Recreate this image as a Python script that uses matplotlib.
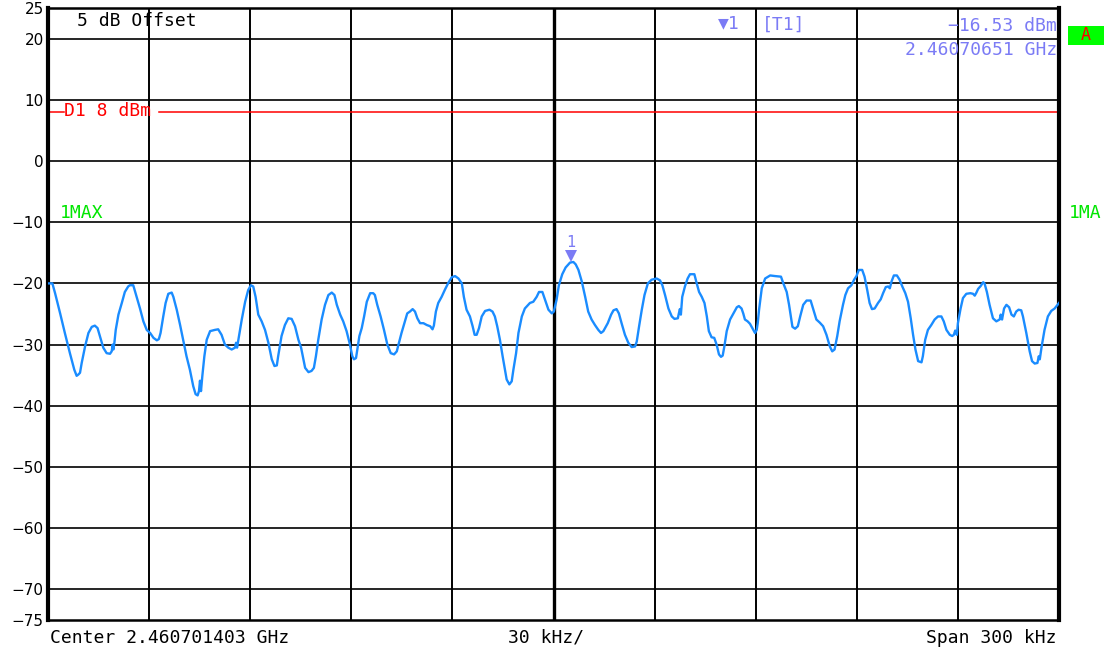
import matplotlib.pyplot as plt
from matplotlib.patches import Rectangle

W, H = 1113, 654

# trace 1 (max hold), offset from centre frequency in kHz, level in dBm
freq_khz = [
    -150.0, -148.7, -147.9, -146.4, -145.0, -143.5, -142.2, -141.5, -141.0, -140.5,
    -140.0, -139.0, -138.0, -137.0, -136.1, -135.3, -134.6, -133.6, -132.6, -131.6,
    -131.1, -130.8, -130.6, -130.3, -129.9, -129.1, -128.1, -127.2, -126.2, -125.7,
    -124.7, -123.7, -122.7, -121.7, -120.7, -119.7, -118.7, -117.7, -117.1, -116.6,
    -115.8, -115.1, -114.3, -113.3, -112.8, -111.8, -110.8, -109.8, -108.9, -107.9,
    -106.9, -106.2, -105.6, -105.2, -104.9, -104.6, -104.2, -103.6, -102.9, -101.9,
    -100.5, -99.5, -98.5, -97.5, -96.5, -95.5, -94.5, -94.2, -93.9, -93.5,
    -92.5, -91.5, -90.6, -89.8, -89.1, -88.4, -87.6, -86.6, -85.6, -84.6,
    -83.6, -82.8, -82.1, -81.7, -80.7, -79.7, -78.7, -77.7, -76.7, -75.7,
    -74.9, -74.4, -73.7, -72.7, -71.8, -71.1, -70.5, -69.8, -68.8, -67.8,
    -66.8, -65.8, -65.0, -64.3, -63.3, -62.4, -61.4, -60.4, -59.7, -59.2,
    -58.6, -58.2, -57.6, -56.9, -56.2, -55.4, -54.4, -53.5, -53.0, -52.3,
    -51.3, -50.3, -49.3, -48.3, -47.3, -46.5, -46.0, -45.1, -44.1, -43.4,
    -42.6, -41.8, -41.1, -40.4, -39.6, -38.6, -37.6, -36.6, -35.9, -35.5,
    -34.9, -34.2, -33.2, -32.2, -31.2, -30.2, -29.2, -28.2, -27.2, -26.6,
    -25.8, -24.8, -24.0, -23.4, -22.8, -22.1, -21.3, -20.3, -19.0, -18.1,
    -17.4, -16.7, -15.9, -15.1, -14.4, -13.9, -13.1, -12.4, -11.9, -11.1,
    -10.4, -9.4, -8.5, -7.0, -6.0, -5.0, -4.3, -3.3, -2.5, -1.5,
    -0.5, 0.1, 0.9, 1.6, 2.6, 3.6, 4.9, 5.9, 6.6, 7.4,
    8.4, 9.4, 10.3, 11.3, 12.3, 13.3, 14.1, 14.8, 15.3, 16.1,
    17.1, 17.8, 18.7, 19.4, 20.2, 21.2, 22.2, 23.2, 24.2, 24.7,
    25.4, 26.2, 27.0, 28.0, 29.1, 30.6, 31.6, 32.3, 33.1, 34.1,
    35.1, 35.9, 36.9, 37.2, 37.5, 37.8, 38.2, 39.0, 39.8, 40.5,
    41.8, 42.5, 43.2, 44.0, 44.8, 45.5, 46.1, 46.9, 47.7, 48.4,
    49.1, 49.7, 50.2, 50.7, 51.4, 52.4, 53.4, 54.4, 55.0, 55.8,
    56.3, 56.8, 57.6, 58.3, 59.3, 59.8, 60.3, 60.6, 61.0, 61.8,
    62.8, 64.3, 65.7, 67.5, 68.2, 69.2, 69.9, 70.5, 70.9, 71.7,
    72.5, 73.2, 74.1, 75.1, 76.3, 77.0, 78.0, 79.0, 80.0, 81.0,
    82.0, 82.7, 83.4, 84.2, 84.9, 85.9, 86.6, 87.4, 88.4, 89.2,
    89.9, 90.6, 91.6, 92.3, 93.1, 93.8, 94.5, 95.3, 96.3, 97.1,
    97.8, 98.6, 99.3, 99.8, 100.3, 101.0, 101.9, 102.7, 103.5, 104.4,
    105.2, 106.0, 106.7, 107.4, 108.2, 109.2, 109.6, 110.3, 111.1, 112.1,
    113.1, 114.1, 115.1, 115.8, 116.6, 117.6, 118.3, 118.8, 119.2, 119.7,
    120.0, 120.8, 121.5, 122.5, 123.7, 124.5, 125.0, 125.5, 126.0, 126.8,
    127.5, 127.9, 128.6, 129.4, 130.4, 131.4, 132.4, 132.7, 133.1, 133.7,
    134.4, 135.2, 135.9, 136.6, 137.3, 138.0, 138.8, 139.3, 140.3, 141.3,
    142.0, 142.8, 143.6, 144.0, 144.3, 144.8, 145.7, 146.7, 147.7, 148.7,
    150.0,
]
level_dbm = [
    -20.0, -20.0, -21.6, -24.9, -28.1, -31.4, -34.1, -35.1, -34.9, -34.6,
    -33.0, -30.3, -28.1, -27.1, -26.9, -27.3, -28.6, -30.5, -31.4, -31.5,
    -31.1, -30.0, -30.8, -29.7, -27.6, -25.1, -23.2, -21.4, -20.5, -20.3,
    -20.3, -22.2, -24.1, -26.2, -27.6, -28.1, -28.9, -29.3, -29.1, -28.1,
    -25.4, -23.2, -21.7, -21.5, -22.2, -24.3, -26.8, -29.5, -31.9, -34.1,
    -36.8, -38.1, -38.3, -37.6, -35.9, -37.6, -35.1, -31.9, -29.2, -27.8,
    -27.6, -27.5, -28.4, -30.0, -30.5, -30.8, -30.5, -29.7, -30.5, -29.2,
    -25.9, -23.0, -21.1, -20.3, -20.5, -22.2, -25.1, -26.2, -27.6, -29.7,
    -32.4, -33.5, -33.4, -31.9, -28.6, -26.8, -25.7, -25.8, -27.0, -29.2,
    -30.5, -31.9, -33.8, -34.5, -34.3, -33.8, -31.9, -29.2, -25.9, -23.5,
    -21.9, -21.5, -21.9, -23.5, -25.1, -26.2, -27.8, -30.0, -31.9, -32.4,
    -32.2, -30.8, -28.6, -27.3, -25.4, -23.0, -21.6, -21.6, -21.9, -23.5,
    -25.4, -27.6, -30.0, -31.4, -31.6, -31.1, -30.0, -28.1, -26.2, -24.9,
    -24.6, -24.2, -24.6, -25.7, -26.5, -26.5, -26.8, -27.0, -27.5, -26.9,
    -24.6, -23.2, -22.2, -21.0, -19.9, -19.0, -18.8, -19.2, -20.0, -22.2,
    -24.3, -25.4, -27.0, -28.4, -28.4, -27.3, -25.4, -24.5, -24.3, -24.6,
    -25.4, -27.0, -29.2, -31.9, -34.1, -35.7, -36.5, -36.0, -34.1, -31.4,
    -28.1, -25.4, -24.1, -23.2, -23.0, -22.2, -21.4, -21.4, -22.7, -24.3,
    -24.9, -24.6, -22.7, -20.3, -18.5, -17.4, -16.6, -16.5, -16.9, -17.8,
    -19.7, -22.2, -24.6, -25.9, -26.8, -27.6, -28.1, -27.8, -27.3, -26.5,
    -25.1, -24.4, -24.2, -24.9, -26.5, -28.4, -29.7, -30.4, -30.3, -29.5,
    -27.0, -24.3, -21.9, -20.0, -19.4, -19.2, -19.5, -20.3, -21.9, -24.1,
    -25.4, -25.8, -25.7, -24.9, -24.2, -25.1, -22.2, -20.5, -19.2, -18.5,
    -18.5, -20.0, -21.4, -22.2, -23.2, -25.4, -27.8, -28.8, -28.9, -30.0,
    -31.6, -32.0, -31.8, -30.3, -27.8, -25.9, -24.9, -23.9, -23.7, -24.1,
    -24.9, -25.9, -26.2, -26.6, -27.6, -28.1, -27.6, -26.5, -24.3, -20.8,
    -19.2, -18.7, -18.8, -18.9, -20.0, -21.4, -23.5, -25.7, -27.1, -27.4,
    -27.0, -25.4, -23.5, -22.8, -22.8, -24.1, -25.9, -26.4, -27.0, -28.4,
    -30.3, -31.1, -30.8, -28.6, -26.2, -23.5, -21.9, -20.8, -20.3, -19.4,
    -18.8, -17.8, -17.8, -18.9, -21.1, -23.2, -24.2, -24.1, -23.2, -22.6,
    -21.6, -20.6, -20.5, -20.8, -19.7, -18.7, -18.7, -19.4, -20.5, -21.6,
    -23.0, -25.7, -28.4, -30.8, -32.7, -32.9, -31.9, -29.2, -27.6, -26.8,
    -25.9, -25.4, -25.4, -26.2, -27.6, -28.4, -28.6, -28.4, -27.7, -28.4,
    -26.5, -24.1, -22.4, -21.7, -21.6, -21.7, -22.0, -21.5, -20.9, -20.4,
    -19.8, -20.0, -21.4, -23.5, -25.7, -26.2, -25.9, -25.1, -25.9, -24.1,
    -23.5, -23.9, -25.1, -25.4, -24.6, -24.3, -24.4, -25.4, -28.1, -31.1,
    -32.7, -33.1, -33.0, -31.9, -32.4, -30.5, -27.6, -25.4, -24.5, -24.1,
    -23.2,
]

y_ticks = [25, 20, 10, 0, -10, -20, -30, -40, -50, -60, -70, -75]
x_divs = [-150, -120, -90, -60, -30, 0, 30, 60, 90, 120, 150]
display_line = 8          # D1 line, dBm
marker_khz = 5.1          # marker 1 position
marker_dbm = -16.53

mono = ['DejaVu Sans Mono', 'DejaVu Sans']
mcol = '#7b7bf5'
green = '#00e600'

fig = plt.figure(figsize=(W / 100, H / 100), dpi=100)
ax = fig.add_axes([48 / W, 1 - 620 / H, 1011 / W, 612 / H])

def ftext(x, y, s, **kw):
    # place text by figure pixel position
    fig.text(x / W, 1 - y / H, s, family=mono, fontsize=13, va='center', **kw)

# GRID
for f in x_divs[1:-1]:
    ax.axvline(f, color='black', lw=2.4 if f == 0 else 1.4, zorder=1)
for v in y_ticks[1:-1]:
    ax.axhline(v, color='black', lw=1.2, zorder=1)

# D1 LINE (broken where its label sits)
ax.plot([-150, -145.3], [display_line] * 2, color='red', lw=1.1, zorder=2)
ax.plot([-117.0, 150], [display_line] * 2, color='red', lw=1.1, zorder=2)

# TRACE
ax.plot(freq_khz, level_dbm, color='#1a8cff', lw=1.7, zorder=3)

# MARKER 1
ax.plot([marker_khz], [marker_dbm + 1.0], marker='v', ms=8, color=mcol,
        markeredgewidth=0, zorder=4)
ax.text(marker_khz, marker_dbm + 2.0, '1', color=mcol, fontsize=11,
        family=mono, ha='center', va='bottom', zorder=4)

ax.set_xlim(-150, 150)
ax.set_ylim(-75, 25)
ax.set_xticks([])
ax.set_yticks(y_ticks)
ax.set_yticklabels([str(v).replace('-', '\u2212') for v in y_ticks])
ax.tick_params(axis='y', length=0, pad=3, labelsize=11)
for side in ['left', 'right']:
    ax.spines[side].set_linewidth(3.0)
for side in ['top', 'bottom']:
    ax.spines[side].set_linewidth(1.8)

# ANNOTATIONS
ftext(77, 21, '5 dB Offset', color='black')
ftext(64, 111, 'D1 8 dBm', color='red')
ftext(60, 213, '1MAX', color=green)
ftext(1069, 213, '1MA', color=green)
ftext(718, 23, '\u25bc1', color=mcol)
ftext(762, 25, '[T1]', color=mcol)
ftext(1057, 26, '\u221216.53 dBm', color=mcol, ha='right')
ftext(1057, 50, '2.46070651 GHz', color=mcol, ha='right')
fig.patches.append(Rectangle((1068 / W, 1 - 45 / H), 36 / W, 19 / H,
                             transform=fig.transFigure, fc='#00ff00', ec='none'))
fig.text(1086 / W, 1 - 35.5 / H, 'A', color='red', family=mono, fontsize=12,
         ha='center', va='center')
ftext(50, 638, 'Center 2.460701403 GHz', color='black')
ftext(508, 638, '30 kHz/', color='black')
ftext(1057, 638, 'Span 300 kHz', color='black', ha='right')

plt.savefig('out.png', dpi=100)
